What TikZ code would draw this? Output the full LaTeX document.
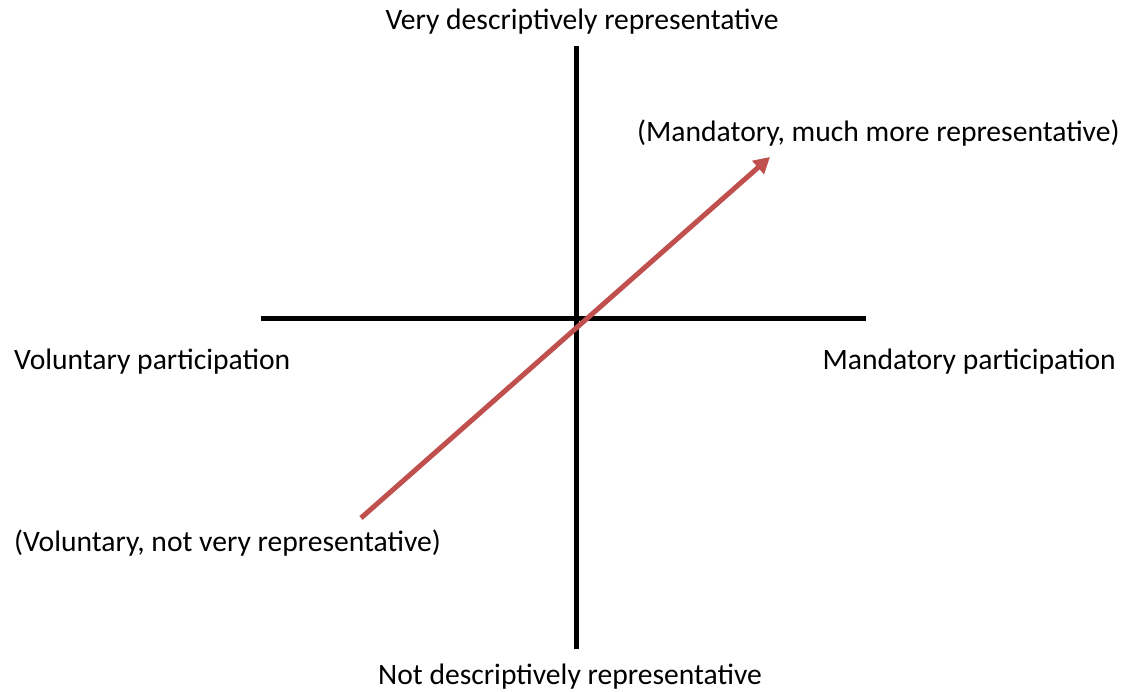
\documentclass[tikz,border=0pt]{standalone}
\usepackage{fontspec}
\setmainfont{Carlito}
\usetikzlibrary{arrows.meta}
\definecolor{arrowred}{RGB}{192,80,77}
\begin{document}
\begin{tikzpicture}[x=1pt,y=-1pt,
  axis/.style={line width=5pt,black},
  lbl/.style={inner sep=0pt,font=\fontsize{29.6}{34}\selectfont},
  redarrow/.style={line width=5pt,arrowred,-{Triangle[length=16pt,width=17pt]}}]
\useasboundingbox (0,0) rectangle (1127,692);
\coordinate (L) at (261,319);
\coordinate (R) at (866,319);
\coordinate (T) at (576,46);
\coordinate (B) at (576,649);
\coordinate (S) at (361,518);
\coordinate (E) at (770,157);
\draw[axis] (L) -- (R);
\draw[axis] (T) -- (B);
\draw[redarrow] (S) -- (E);
\node[lbl] (top) at (582,22) {Very descriptively representative};
\node[lbl,anchor=west] (mand) at (637,133) {(Mandatory, much more representative)};
\node[lbl,anchor=west] (volp) at (14,362) {Voluntary participation};
\node[lbl,anchor=east] (manp) at (1116,362) {Mandatory participation};
\node[lbl,anchor=west] (vol) at (14,543) {(Voluntary, not very representative)};
\node[lbl] (bot) at (570,677) {Not descriptively representative};
\end{tikzpicture}
\end{document}
